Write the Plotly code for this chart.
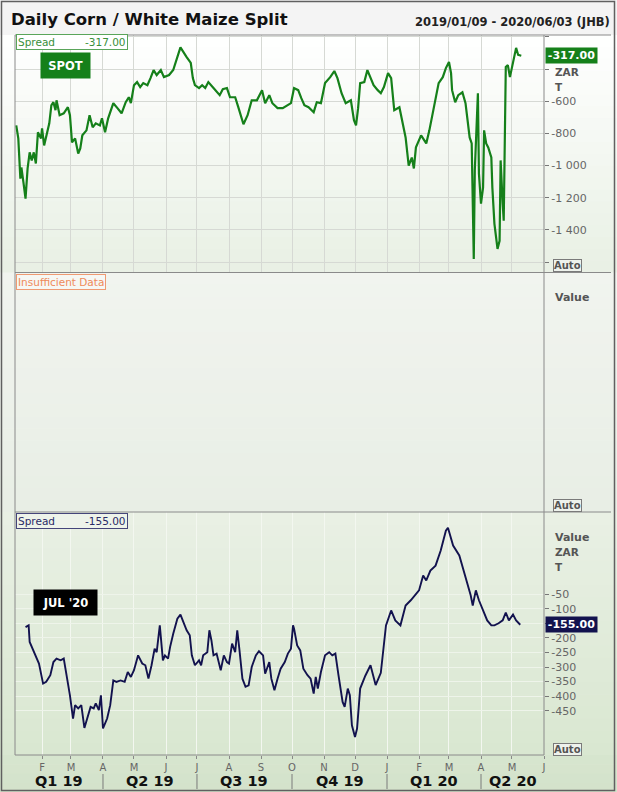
import pandas as pd
import plotly.graph_objects as go
from plotly.subplots import make_subplots

BASE = pd.Timestamp("2019-01-01")

# SPOT spread (ZAR/t) -- days counted from 2019-01-01
spot_days = [6, 8, 10, 11, 13, 15, 17, 19, 21, 23, 25, 27, 30, 31, 33, 36, 38, 40, 42, 44,
             45, 48, 52, 56, 58, 60, 63, 66, 68, 70, 74, 77, 80, 83, 87, 89, 92, 95, 100, 104,
             108, 112, 115, 117, 120, 123, 126, 129, 133, 136, 139, 142, 146, 149, 154, 158, 162, 165,
             171, 175, 177, 179, 183, 186, 189, 192, 197, 203, 206, 210, 213, 218, 221, 226, 230, 234,
             239, 244, 247, 251, 254, 259, 264, 268, 272, 275, 279, 282, 285, 289, 294, 297, 301, 305,
             310, 314, 317, 321, 325, 330, 333, 335, 337, 339, 343, 346, 349, 352, 356, 359,
             362, 366, 369, 372, 377, 380, 383, 386, 389, 391, 393, 398, 403, 406, 409, 412, 415, 419,
             422, 425, 427, 428, 431, 434, 438, 441, 445, 447, 448, 449, 450, 453, 454, 456, 458, 459,
             461, 463, 466, 467, 469, 472, 474, 475, 477, 478, 480, 482, 484, 487, 490, 492, 495]
spot_vals = [-750, -831, -1081, -1012, -1106, -1206, -1018, -918, -968, -918, -987, -793, -831, -768,
             -875, -800, -737, -625, -606, -656, -594, -687, -675, -637, -687, -856, -831, -925, -893,
             -812, -781, -687, -762, -737, -750, -706, -793, -706, -612, -643, -675, -606, -575, -612,
             -500, -481, -512, -487, -500, -456, -406, -437, -406, -450, -437, -406, -325, -265,
             -325, -362, -456, -500, -518, -500, -518, -481, -518, -562, -525, -518, -575, -575, -637,
             -743, -687, -594, -594, -531, -612, -562, -612, -643, -643, -625, -612, -518, -531, -581,
             -625, -637, -668, -606, -612, -487, -450, -412, -456, -550, -612, -594, -718, -750, -643,
             -487, -481, -406, -450, -500, -531, -550,
             -512, -425, -456, -656, -637, -737, -825, -1000, -950, -1018, -887, -812, -862, -781, -675,
             -594, -487, -450, -394, -356, -425, -531, -606, -562, -544, -612, -825, -862, -1237, -1581,
             -1031, -550, -1050, -1237, -1137, -781, -862, -887, -950, -1137, -1362, -1518, -1468, -968,
             -1237, -1343, -387, -375, -450, -362, -268, -312, -317]

# JUL '20 spread (ZAR/t)
jul_days = [15, 18, 19, 22, 26, 28, 32, 35, 39, 42, 45, 49, 52, 55, 58, 61, 63, 66, 69, 72,
            75, 78, 81, 83, 86, 88, 90, 94, 97, 100, 103, 107, 111, 114, 117, 120, 124, 128, 131, 134,
            137, 140, 142, 145, 148, 150, 153, 155, 158, 162, 165, 168, 171, 174, 176, 179, 183, 185, 187, 191,
            193, 195, 197, 200, 204, 207, 210, 212, 215, 218, 220, 222, 225, 228, 231, 234, 238, 241, 245, 247,
            251, 253, 256, 259, 262, 266, 269, 272, 274, 275, 278, 281, 284, 288, 291, 294, 296, 298, 301, 305,
            309, 312, 315, 318, 322, 324, 327, 329, 331, 334, 336, 339,
            344, 349, 354, 359, 364, 369, 373, 378, 383, 388, 396, 400, 403, 407, 412, 417, 422, 424, 429, 435,
            438, 442, 446, 448, 451, 454, 458, 462, 466, 469, 473, 477, 480, 483, 487, 490, 494]
jul_vals = [-163, -157, -214, -237, -271, -288, -357, -351, -328, -283, -271, -277, -271, -328, -397,
            -477, -431, -442, -431, -509, -477, -437, -442, -425, -448, -397, -511, -477, -431, -346,
            -351, -346, -351, -317, -334, -311, -260, -288, -294, -340, -294, -237, -249, -157, -277,
            -260, -271, -231, -186, -134, -120, -150, -174, -191, -260, -294, -277, -294, -260, -249,
            -174, -209, -260, -254, -311, -260, -283, -288, -220, -249, -174, -237, -340, -368, -363,
            -300, -260, -246, -260, -323, -283, -340, -380, -340, -306, -283, -254, -237, -157, -169,
            -226, -243, -306, -328, -340, -391, -334, -374, -317, -260, -249, -260, -254, -328, -420,
            -437, -374, -397, -500, -540, -511, -374,
            -330, -294, -362, -320, -157, -106, -140, -157, -89, -71, -37, 14, -3, 31, 48, 100, 168, 178,
            117, 83, 48, -3, -54, -89, -37, -71, -106, -140, -157, -157, -150, -140, -113, -140, -120,
            -140, -155]

assert len(spot_days) == len(spot_vals)
assert len(jul_days) == len(jul_vals)

month_ticks = pd.date_range("2019-02-01", "2020-06-01", freq="MS")
month_labels = ["F", "M", "A", "M", "J", "J", "A", "S", "O", "N", "D", "J", "F", "M", "A", "M", "J"]
quarter_labels = ["Q1 19", "Q2 19", "Q3 19", "Q4 19", "Q1 20", "Q2 20"]
quarter_bounds = pd.to_datetime(["2019-01-01", "2019-04-01", "2019-07-01", "2019-10-01",
                                 "2020-01-01", "2020-04-01", "2020-07-01"])
spot_ticks = [-200, -400, -600, -800, -1000, -1200, -1400, -1600]
spot_ticktext = ["", "", "-600", "-800", "-1 000", "-1 200", "-1 400", ""]
jul_ticks = [-50, -100, -150, -200, -250, -300, -350, -400, -450]
jul_ticktext = ["-50", "-100", "", "-200", "-250", "-300", "-350", "-400", "-450"]

X_START = BASE + pd.Timedelta(days=4.8)
X_END = pd.Timestamp("2020-06-01")

spot_x = [BASE + pd.Timedelta(days=d) for d in spot_days]
jul_x = [BASE + pd.Timedelta(days=d) for d in jul_days]

W, H = 617, 792
L, R, T, B = 15, 73, 35, 37
PW, PH = W - L - R, H - T - B


def xp(px):
    return (px - L) / PW


def yp(py):
    return (H - B - py) / PH


GREEN = "#15801a"
NAVY = "#12124e"
FONT = "DejaVu Sans"

fig = make_subplots(rows=3, cols=1, shared_xaxes=True, vertical_spacing=0)
fig.add_trace(go.Scatter(x=spot_x, y=spot_vals, mode="lines",
                         line=dict(color=GREEN, width=2.2), hoverinfo="skip"), row=1, col=1)
fig.add_trace(go.Scatter(x=jul_x, y=jul_vals, mode="lines",
                         line=dict(color=NAVY, width=1.9), hoverinfo="skip"), row=3, col=1)

shapes = []


def hex2rgb(h):
    return tuple(int(h[i:i + 2], 16) for i in (1, 3, 5))


def grad(y0, y1, c0, c1, n=20):
    a, b = hex2rgb(c0), hex2rgb(c1)
    for i in range(n):
        t = (i + 0.5) / n
        col = "rgb(%d,%d,%d)" % tuple(round(a[k] + (b[k] - a[k]) * t) for k in range(3))
        ya = y0 + (y1 - y0) * i / n
        yb = y0 + (y1 - y0) * (i + 1) / n + 0.6
        shapes.append(dict(type="rect", xref="paper", yref="paper", x0=xp(0), x1=xp(W),
                           y0=yp(yb), y1=yp(ya), fillcolor=col, line=dict(width=0), layer="below"))


grad(35, 272.5, "#ffffff", "#e8f0e4")
grad(272.5, 512, "#f1f4ef", "#e8eee5")
grad(512, 755, "#e9f0e4", "#d9e7d1")
grad(755, 792, "#d7e5cf", "#d3e2ca", n=4)

LINEC = "#8a8a8a"


def hline(py, x0px, x1px, color=LINEC, w=1):
    shapes.append(dict(type="line", xref="paper", yref="paper", x0=xp(x0px), x1=xp(x1px),
                       y0=yp(py), y1=yp(py), line=dict(color=color, width=w), layer="above"))


def vline(px, y0px, y1px, color=LINEC, w=1):
    shapes.append(dict(type="line", xref="paper", yref="paper", x0=xp(px), x1=xp(px),
                       y0=yp(y0px), y1=yp(y1px), line=dict(color=color, width=w), layer="above"))


hline(35, L, W - 6)
hline(272.5, L, W - 6)
hline(512, L, W - 6)
hline(755, L, L + PW)
vline(L, 35, 755)
vline(L + PW, 35, 755)
# outer frame
shapes.append(dict(type="rect", xref="paper", yref="paper", x0=xp(1.5), x1=xp(W - 2.5),
                   y0=yp(H - 1.5), y1=yp(1.5), line=dict(color="#606060", width=1.5), layer="above"))

# quarter separators
for qb in quarter_bounds[1:-1]:
    shapes.append(dict(type="line", xref="x3", yref="paper", x0=qb, x1=qb,
                       y0=yp(774), y1=yp(789), line=dict(color="#7a7a7a", width=1)))

annotations = []


def ann(text, xpx, ypx, xanchor="left", yanchor="middle", size=11, color="#555", **kw):
    d = dict(text=text, xref="paper", yref="paper", x=xp(xpx), y=yp(ypx), xanchor=xanchor,
             yanchor=yanchor, showarrow=False, font=dict(family=FONT, size=size, color=color))
    d.update(kw)
    annotations.append(d)


ann("<b>Daily Corn / White Maize Split</b>", 9, 19, size=16.5, color="#111")
ann("<b>2019/01/09 - 2020/06/03 (JHB)</b>", 612, 22, xanchor="right", size=11.5, color="#222")

NB = "\u00a0"
ann("Spread" + NB * 9 + "%.2f" % spot_vals[-1], 16, 42, size=10.5, color="#3a8f3a",
    bgcolor="#ffffff", bordercolor="#5aa55a", borderwidth=1, borderpad=1)
ann("Insufficient Data", 16, 282, size=10.5, color="#ef8a5a",
    bgcolor="#f6f7f4", bordercolor="#ef9a72", borderwidth=1, borderpad=1)
ann("Spread" + NB * 9 + "%.2f" % jul_vals[-1], 16, 521, size=10.5, color="#2a2a66",
    bgcolor="#eef3ea", bordercolor="#45457a", borderwidth=1, borderpad=1)

ann("<b>SPOT</b>", 40, 65.5, size=11.5, color="#ffffff", bgcolor=GREEN, width=47, height=23)
ann("<b>JUL '20</b>", 33, 602.5, size=11.5, color="#ffffff", bgcolor="#000000", width=61, height=23)

# right axis labels
ann("<b>ZAR</b>", 553, 72, size=10.5)
ann("<b>T</b>", 553, 87, size=10.5)
ann("<b>Value</b>", 553, 297, size=11)
ann("<b>Value</b>", 553, 537, size=11)
ann("<b>ZAR</b>", 553, 552, size=10.5)
ann("<b>T</b>", 553, 567, size=10.5)
for ypx in (265.5, 505.5, 749):
    ann("<b>Auto</b>", 553, ypx, size=10, color="#555", bordercolor="#7a7a7a", borderwidth=1,
        borderpad=0, bgcolor="#eef2ec")

# current value tags
annotations.append(dict(text="<b>%.2f</b>" % spot_vals[-1], xref="paper", yref="y", x=1, xshift=1,
                        y=spot_vals[-1], xanchor="left", yanchor="middle", showarrow=False,
                        font=dict(family=FONT, size=11, color="#ffffff"), bgcolor=GREEN,
                        borderpad=1, width=49))
annotations.append(dict(text="<b>%.2f</b>" % jul_vals[-1], xref="paper", yref="y3", x=1, xshift=1,
                        y=jul_vals[-1], xanchor="left", yanchor="middle", showarrow=False,
                        font=dict(family=FONT, size=11, color="#ffffff"), bgcolor=NAVY,
                        borderpad=1, width=49))

# quarter labels
for i, q in enumerate(quarter_labels):
    a = max(quarter_bounds[i], X_START)
    b = min(quarter_bounds[i + 1], X_END)
    mid = a + (b - a) / 2
    annotations.append(dict(text="<b>%s</b>" % q, xref="x3", yref="paper", x=mid, y=yp(781),
                            xanchor="center", yanchor="middle", showarrow=False,
                            font=dict(family=FONT, size=14.5, color="#111")))

fig.update_layout(
    width=W, height=H, margin=dict(l=L, r=R, t=T, b=B),
    paper_bgcolor="#f4f4f4", plot_bgcolor="rgba(0,0,0,0)",
    showlegend=False, shapes=shapes, annotations=annotations,
    font=dict(family=FONT, size=11, color="#666"),
    hovermode=False,
)

xcommon = dict(type="date", range=[X_START, X_END], tickvals=month_ticks, ticktext=month_labels,
               showline=False, zeroline=False)
fig.update_layout(
    xaxis=dict(**xcommon, showgrid=True, gridcolor="#d6d9d4", showticklabels=False, ticks=""),
    xaxis2=dict(**xcommon, showgrid=True, gridcolor="#d9ddd6", showticklabels=False, ticks=""),
    xaxis3=dict(**xcommon, showgrid=True, gridcolor="#f3f7f0", showticklabels=True, ticks="outside",
                ticklen=3, tickcolor="#888", tickfont=dict(size=10, color="#666")),
    yaxis=dict(domain=[yp(272.5), 1], side="right", range=[-1665, -188], tickvals=spot_ticks,
               ticktext=spot_ticktext, showgrid=True, gridcolor="#d6d9d4", zeroline=False,
               ticks="outside", ticklen=4, tickcolor="#777", tickfont=dict(size=11, color="#666")),
    yaxis2=dict(domain=[yp(512), yp(272.5)], side="right", range=[0, 1], showgrid=False,
                zeroline=False, showticklabels=False),
    yaxis3=dict(domain=[0, yp(512)], side="right", range=[-602, 232], tickvals=jul_ticks,
                ticktext=jul_ticktext, showgrid=True, gridcolor="#eef4ea", zeroline=False,
                ticks="outside", ticklen=4, tickcolor="#777", tickfont=dict(size=11, color="#666")),
)

fig.write_html("out.html", config={"displayModeBar": False},
               post_script="document.body.style.margin='0';document.body.style.overflow='hidden';")
